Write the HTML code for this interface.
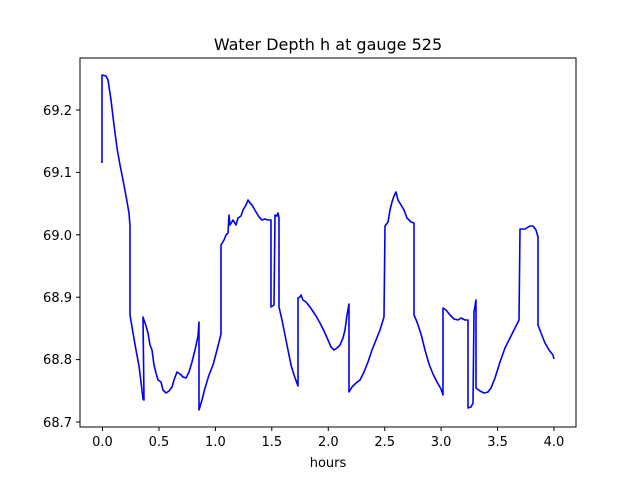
<!DOCTYPE html>
<html><head><style>body{margin:0;background:#fff}svg{display:block}</style></head><body>
<svg width="640" height="480" xmlns="http://www.w3.org/2000/svg" font-family="DejaVu Sans, Liberation Sans, sans-serif">
<rect width="640" height="480" fill="#fff"/>
<text x="328" y="50" font-size="16" text-anchor="middle">Water Depth h at gauge 525</text>
<polyline fill="none" stroke="#0000ff" stroke-width="1.6" stroke-linejoin="round" points="102,163 102,75 106,76 108,80 111,100 114,125 117,148 120,165 123,180 126,196 129,213 130,226 130,315 133,333 136,350 139,366 141,382 143,399 144,400 143,317 146,326 148,333 150,345 152,350 154,365 156,373 158,380 161,382 163,390 166,393 169,391 172,387 174,380 177,372 180,374 183,377 186,378 189,372 192,362 195,350 198,336 199,322 199,410 202,400 205,388 209,375 213,365 217,350 221,334 221,245 224,240 226,235 228,233 229,215 230,225 233,220 236,225 238,218 241,216 243,210 246,205 248,200 250,203 252,205 256,212 259,217 262,220 265,219 268,220 271,220 271,307 274,305 275,215 277,216 278,213 279,218 279,307 282,320 285,335 288,350 291,365 294,375 298,386 298,298 300,297 301,295 303,300 306,302 310,307 312,310 316,316 320,323 324,331 328,340 331,347 334,350 337,348 340,345 343,338 345,330 347,315 349,304 349,392 352,387 356,383 360,380 364,372 368,362 372,350 376,340 380,330 384,317 385,226 388,222 390,210 392,202 394,196 396,192 398,200 401,205 404,210 407,218 411,222 414,223 414,315 417,322 421,334 425,350 429,364 433,374 437,382 441,389 443,395 443,308 446,310 450,315 454,319 458,320 461,318 465,320 468,320 468,408 471,407 473,403 474,312 476,300 476,388 480,391 484,393 488,392 491,388 495,378 500,362 505,348 510,338 515,328 519,320 520,229 525,229 530,226 533,226 536,230 538,237 538,325 541,333 545,343 549,350 553,355 554,359"/>
<rect x="80" y="58" width="496" height="369" fill="none" stroke="#000" stroke-width="1"/>
<g stroke="#000" stroke-width="1">
<line x1="102.5" y1="427" x2="102.5" y2="431"/><line x1="159" y1="427" x2="159" y2="431"/><line x1="215.4" y1="427" x2="215.4" y2="431"/><line x1="271.8" y1="427" x2="271.8" y2="431"/><line x1="328.3" y1="427" x2="328.3" y2="431"/><line x1="384.7" y1="427" x2="384.7" y2="431"/><line x1="441.1" y1="427" x2="441.1" y2="431"/><line x1="497.6" y1="427" x2="497.6" y2="431"/><line x1="554" y1="427" x2="554" y2="431"/>
<line x1="76" y1="110" x2="80" y2="110"/><line x1="76" y1="172.4" x2="80" y2="172.4"/><line x1="76" y1="234.8" x2="80" y2="234.8"/><line x1="76" y1="297.2" x2="80" y2="297.2"/><line x1="76" y1="359.6" x2="80" y2="359.6"/><line x1="76" y1="422" x2="80" y2="422"/>
</g>
<g font-size="13" text-anchor="middle">
<text x="102.5" y="446">0.0</text><text x="159" y="446">0.5</text><text x="215.4" y="446">1.0</text><text x="271.8" y="446">1.5</text><text x="328.3" y="446">2.0</text><text x="384.7" y="446">2.5</text><text x="441.1" y="446">3.0</text><text x="497.6" y="446">3.5</text><text x="554" y="446">4.0</text>
<text x="328" y="467">hours</text>
</g>
<g font-size="13" text-anchor="end">
<text x="72" y="115">69.2</text><text x="72" y="177">69.1</text><text x="72" y="240">69.0</text><text x="72" y="302">68.9</text><text x="72" y="364">68.8</text><text x="72" y="427">68.7</text>
</g>
</svg>
</body></html>
